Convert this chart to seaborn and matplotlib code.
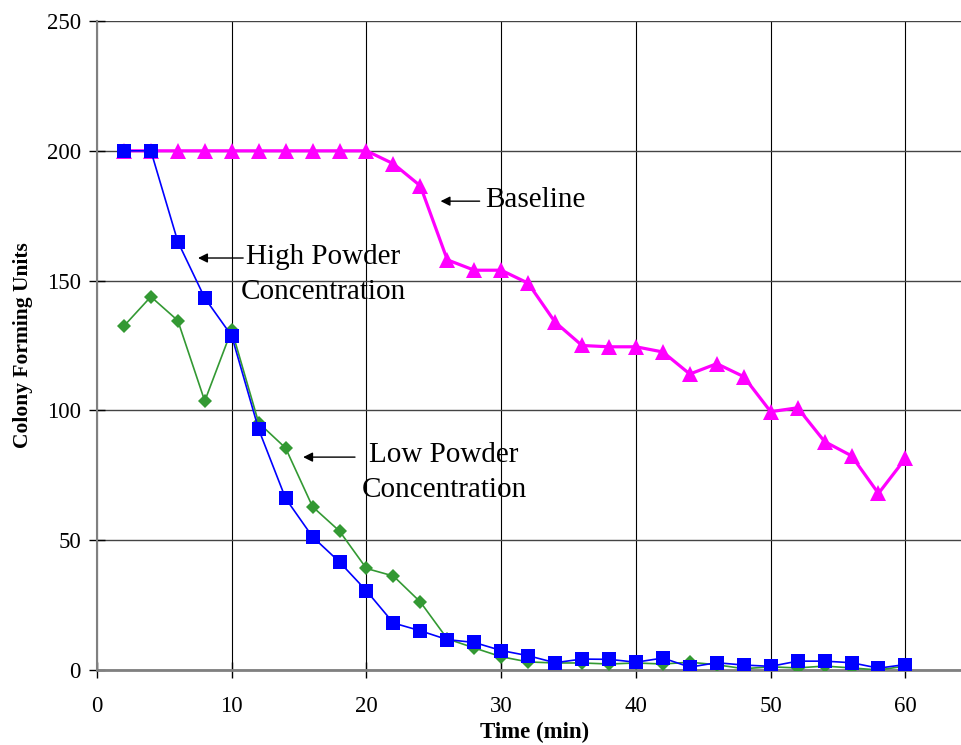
import matplotlib

matplotlib.use("Agg")

import matplotlib.pyplot as plt
import pandas as pd
import seaborn as sns

# Time points (min)
time_min = list(range(2, 62, 2))

# Colony forming units per series
baseline = [200, 200, 200, 200, 200, 200, 200, 200, 200, 200,
            195, 186.5, 158, 154, 154, 149, 134, 125, 124.5, 124.5,
            122.5, 114, 118, 113, 99.5, 101, 88, 82.5, 68, 81.5]
high_powder = [200, 200, 165, 143.3, 128.7, 92.7, 66.1, 51.3, 41.6, 30.5,
               18.1, 15.1, 11.7, 10.6, 7.5, 5.5, 2.8, 4.2, 4.1, 3.0,
               4.6, 1.1, 2.8, 1.9, 1.4, 3.4, 3.4, 2.8, 0.7, 2.1]
low_powder = [132.5, 143.8, 134.6, 103.6, 131, 95.2, 85.5, 62.9, 53.5, 39.1,
              36.2, 26.2, 12.0, 8.5, 5.1, 3.1, 2.7, 2.7, 2.3, 2.7,
              2.3, 3.0, 2.0, 0.5, 1.2, 0.8, 1.5, 0.8, 0.0, 1.5]

x_ticks = [0, 10, 20, 30, 40, 50, 60]
y_ticks = [0, 50, 100, 150, 200, 250]

df = pd.DataFrame({
    "time": time_min,
    "baseline": baseline,
    "high": high_powder,
    "low": low_powder,
})

sns.set_style("white")
plt.rcParams["font.family"] = ["Liberation Serif", "DejaVu Serif"]
plt.rcParams.update({
    "text.color": "black",
    "axes.labelcolor": "black",
    "xtick.color": "black",
    "ytick.color": "black",
})

fig = plt.figure(figsize=(9.62, 7.45), dpi=100)
ax = fig.add_axes([0.1008, 0.1007, 0.8992, 0.8711])

sns.lineplot(data=df, x="time", y="low", ax=ax, color="#339933", linewidth=1.2,
             marker="D", markersize=7.5, markeredgewidth=0, zorder=3)
sns.lineplot(data=df, x="time", y="baseline", ax=ax, color="#FF00FF", linewidth=2.3,
             marker="^", markersize=11, markeredgewidth=0, zorder=4)
sns.lineplot(data=df, x="time", y="high", ax=ax, color="#0000FF", linewidth=1.2,
             marker="s", markersize=10, markeredgewidth=0, zorder=5)

ax.set_xlim(0, 64.2)
ax.set_ylim(0, 250)
ax.set_xticks(x_ticks)
ax.set_yticks(y_ticks)

ax.grid(axis="x", color="black", linewidth=0.8)
ax.grid(axis="y", color="#444444", linewidth=1.0)
ax.set_axisbelow(True)

for side in ["top", "right"]:
    ax.spines[side].set_visible(False)
ax.spines["left"].set_color("#808080")
ax.spines["left"].set_linewidth(1.5)
ax.spines["bottom"].set_color("#808080")
ax.spines["bottom"].set_linewidth(2)
ax.spines["left"].set_zorder(2)
ax.spines["bottom"].set_zorder(2)

ax.tick_params(axis="both", direction="inout", length=11, width=1, color="black",
               labelcolor="black", labelsize=16.5, left=True, bottom=True)
ax.tick_params(axis="y", pad=6)
ax.tick_params(axis="x", pad=13)

ax.set_xlabel("Time (min)", fontsize=16.5, fontweight="bold", color="black")
ax.set_ylabel("Colony Forming Units", fontsize=15.5, fontweight="bold", color="black")
ax.xaxis.set_label_coords(0.506, -0.080)
ax.yaxis.set_label_coords(-0.074, 0.5)

arrow = dict(arrowstyle="-|>", color="black", lw=1, mutation_scale=14, shrinkA=0, shrinkB=0)
ax.annotate("", xy=(25.5, 180.6), xytext=(28.4, 180.6), arrowprops=arrow)
ax.text(28.8, 181, "Baseline", fontsize=21, ha="left", va="center", color="black")

ax.annotate("", xy=(7.5, 158.7), xytext=(10.85, 158.7), arrowprops=arrow)
ax.text(16.8, 152.2, "High Powder\nConcentration", fontsize=21, ha="center", va="center",
        multialignment="center", linespacing=1.45, color="black")

ax.annotate("", xy=(15.3, 82), xytext=(19.15, 82), arrowprops=arrow)
ax.text(25.76, 76, "Low Powder\nConcentration", fontsize=21, ha="center", va="center",
        multialignment="center", linespacing=1.45, color="black")

fig.savefig("out.png", dpi=100, facecolor="white")
